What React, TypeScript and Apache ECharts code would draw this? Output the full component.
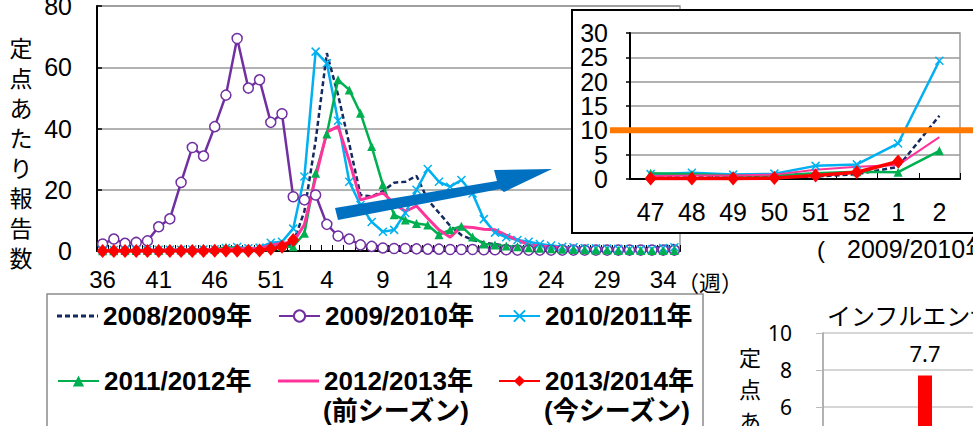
import React, { useEffect, useRef } from "react";
import * as echarts from "echarts";

const FONT = "'Liberation Sans', Arial, 'Noto Sans CJK JP', sans-serif";
const JP = "'Noto Sans CJK JP', 'Liberation Sans', sans-serif";
const NARROW = "'Liberation Sans Narrow', 'Liberation Sans', Arial, sans-serif";

const weeks = [
  "36", "37", "38", "39", "40", "41", "42", "43", "44", "45", "46", "47", "48", "49", "50", "51", "52",
  "1", "2", "3", "4", "5", "6", "7", "8", "9", "10", "11", "12", "13", "14", "15", "16", "17", "18",
  "19", "20", "21", "22", "23", "24", "25", "26", "27", "28", "29", "30", "31", "32", "33", "34", "35",
];

const seasonNames = ["2008/2009年", "2009/2010年", "2010/2011年", "2011/2012年", "2012/2013年", "2013/2014年"];

const s2008 = [
  0.1, 0.1, 0.1, 0.1, 0.2, 0.2, 0.2, 0.2, 0.2, 0.3, 0.3,
  0.3, 0.3, 0.3, 0.4, 0.5, 1.0,
  2.5, 13, 36, 64.6, 51, 35, 18.3, 17.8, 19.5, 22.3, 22.6, 24.5, 16.7, 12.5, 8.2, 5.2, 3.6, 2.8, 2.2,
  1.8, 1.4, 1.1, 0.9, 0.8, 0.7, 0.6, 0.6, 0.5, 0.5, 0.5, 0.6, 0.7, 0.9, 1.5, 2.0,
];
const s2009 = [
  2.3, 3.9, 2.5, 2.8, 3.3, 7.9, 10.5, 22.4, 33.8, 31, 40.6,
  50.9, 69.4, 53.2, 55.9, 42, 44.8,
  17.7, 16.7, 18.3, 8.7, 4.9, 3.9, 2.0, 1.5, 1.0, 0.8, 0.8, 0.7, 0.6, 0.6, 0.5, 0.5, 0.5, 0.4, 0.4,
  0.4, 0.3, 0.3, 0.3, 0.3, 0.3, 0.3, 0.3, 0.3, 0.3, 0.3, 0.3, 0.3, 0.3, 0.3, 0.3,
];
const s2010 = [
  0.3, 0.3, 0.3, 0.3, 0.3, 0.4, 0.4, 0.4, 0.5, 0.5, 0.6,
  1.0, 1.3, 0.9, 1.1, 2.7, 3.0,
  7.3, 24.3, 65.1, 61.3, 42.5, 22.6, 15, 9.5, 6.3, 6.9, 12.4, 20, 26.8, 22.6, 21, 23.2, 18.8, 10.4, 6.0,
  4.5, 3.6, 3.0, 2.3, 1.8, 1.4, 1.2, 1.0, 0.9, 0.8, 0.7, 0.6, 0.6, 0.6, 1.0, 1.2,
];
const s2011 = [
  0.1, 0.1, 0.2, 0.2, 0.2, 0.2, 0.3, 0.3, 0.3, 0.4, 0.5,
  1.2, 1.0, 0.7, 0.7, 1.2, 1.5,
  1.4, 5.8, 25.4, 38.2, 55.9, 52.6, 45, 34.1, 21.6, 11.8, 10.1, 9.0, 8.5, 5.3, 6.9, 8.1, 4.6, 2.3, 2.0,
  1.6, 1.4, 1.1, 0.9, 0.7, 0.6, 0.5, 0.4, 0.3, 0.3, 0.2, 0.2, 0.2, 0.2, 0.2, 0.2,
];
const s2012 = [
  0.2, 0.2, 0.2, 0.2, 0.2, 0.3, 0.3, 0.3, 0.3, 0.4, 0.5,
  0.6, 0.7, 0.7, 0.9, 1.9, 2.5,
  2.9, 8.6, 24, 38.8, 40.7, 29.5, 16.7, 17.7, 19, 15.6, 12.9, 14.7, 10.7, 6.9, 4.5, 7.9, 7.7, 7.1, 6.9,
  5.2, 3.6, 2.0, 1.6, 1.3, 1.0, 0.8, 0.6, 0.5, 0.5, 0.4, 0.4, 0.4, 0.4, 0.4, 0.4,
];
const s2013 = [
  0, 0, 0, 0, 0, 0, 0, 0, 0, 0, 0.1,
  0.1, 0.1, 0.1, 0.2, 0.7, 1.4,
  3.6, null, null, null, null, null, null, null, null, null, null, null, null, null, null, null, null, null, null,
  null, null, null, null, null, null, null, null, null, null, null, null, null, null, null, null,
];

// inset: weeks 47..2
const insetStart = 11;
const insetEnd = 19;
const insetThreshold = 10;
const insetTickLabels = ["0", "5", "10", "15", "20", "25", "30"];

// small chart at bottom right
const barCategories = ["定点"];
const barValues = [7.7];

const yMainTicks = { min: 0, max: 80, interval: 20 };
const yInsetTicks = { min: 0, max: 30, interval: 5 };
const yBarTicks = { min: 0, max: 10, interval: 2 };

const DASH_ICON = "path://M0,0h5v3h-5zM8,0h5v3h-5zM16,0h5v3h-5zM24,0h5v3h-5zM32,0h5v3h-5zM40,0h1v3h-1z";

const styles: any[] = [
  { color: "#14295F", lineStyle: { width: 2.5, type: [5, 3] }, symbol: "none" },
  {
    color: "#7030A0",
    lineStyle: { width: 2.5, color: "#7030A0" },
    symbol: "circle",
    symbolSize: 10,
    itemStyle: { color: "#ffffff", borderColor: "#7030A0", borderWidth: 1.5 },
  },
  {
    color: "#00B0F0",
    lineStyle: { width: 2.5 },
    symbol: "path://M0,0L10,10M10,0L0,10",
    symbolSize: 8,
    itemStyle: { color: "#00B0F0", borderColor: "#00B0F0", borderWidth: 1.5 },
  },
  { color: "#00B050", lineStyle: { width: 2.5 }, symbol: "triangle", symbolSize: 9 },
  { color: "#FF3399", lineStyle: { width: 3 }, symbol: "none" },
  { color: "#FF0000", lineStyle: { width: 3.5 }, symbol: "diamond", symbolSize: [12, 14] },
];

const seasonData = [s2008, s2009, s2010, s2011, s2012, s2013];

export default function App() {
  const ref = useRef<HTMLDivElement>(null);

  useEffect(() => {
    document.body.style.margin = "0";
    const chart = echarts.init(ref.current!, null, { renderer: "svg" });

    const mainSeries = seasonData.map((d, k) => ({
      type: "line",
      name: seasonNames[k],
      xAxisIndex: 0,
      yAxisIndex: 0,
      data: d,
      showAllSymbol: true,
      connectNulls: false,
      ...styles[k],
    }));

    const insetSeries = seasonData
      .map((d, k) => ({ d, k }))
      .filter(({ k }) => k !== 1)
      .map(({ d, k }) => ({
        type: "line",
        name: seasonNames[k],
        xAxisIndex: 1,
        yAxisIndex: 1,
        z: 13,
        data: d.slice(insetStart, insetEnd),
        showAllSymbol: true,
        ...styles[k],
        lineStyle: { ...styles[k].lineStyle, width: k === 4 ? 2 : styles[k].lineStyle.width },
      }));

    const legendBase = {
      selectedMode: false,
      itemWidth: 41,
      itemHeight: 14,
      padding: 0,
      symbolKeepAspect: false,
      textStyle: { fontSize: 26, fontWeight: "bold", color: "#000", fontFamily: FONT, lineHeight: 30 },
    };
    const legendPos = [
      [57, 301],
      [278, 301],
      [498, 301],
      [57, 366],
      [278, 366],
      [498, 366],
    ];
    const legendIcons: (string | null)[] = [DASH_ICON, null, null, null, "rect", null];

    const baseGraphics: any[] = [
      {
        id: "legendBox",
        type: "rect",
        z: 0,
        shape: { x: 47, y: 294, width: 656, height: 150 },
        style: { fill: "none", stroke: "#8c8c8c", lineWidth: 1.5 },
      },
      {
        id: "insetBox",
        type: "rect",
        z: 10,
        shape: { x: 572, y: 10, width: 420, height: 223 },
        style: { fill: "#ffffff", stroke: "#000000", lineWidth: 2 },
      },
      {
        id: "arrow",
        type: "polygon",
        z: 6,
        shape: {
          points: [
            [335, 208],
            [497, 181],
            [494, 170],
            [552, 169],
            [504, 192],
            [500, 189],
            [338, 220],
          ],
        },
        style: { fill: "#0070C0" },
      },
      {
        id: "yName",
        type: "text",
        z: 5,
        x: 21,
        y: 32,
        style: {
          text: "定\n点\nあ\nた\nり\n報\n告\n数",
          fontSize: 23,
          fontFamily: JP,
          lineHeight: 30,
          align: "center",
          verticalAlign: "top",
          fill: "#000",
        },
      },
      {
        id: "weekUnit",
        type: "text",
        z: 5,
        x: 677,
        y: 281,
        style: { text: "（週）", fontSize: 22, fontFamily: JP, fill: "#000", verticalAlign: "middle" },
      },
      {
        id: "prevSeason",
        type: "text",
        z: 5,
        x: 323,
        y: 411,
        style: { text: "(前シーズン)", fontSize: 26, fontWeight: "bold", fontFamily: FONT, fill: "#000", verticalAlign: "middle" },
      },
      {
        id: "curSeason",
        type: "text",
        z: 5,
        x: 544,
        y: 411,
        style: { text: "(今シーズン)", fontSize: 26, fontWeight: "bold", fontFamily: FONT, fill: "#000", verticalAlign: "middle" },
      },
      {
        id: "paren",
        type: "text",
        z: 5,
        x: 817,
        y: 249,
        style: { text: "(", fontSize: 24, fontFamily: FONT, fill: "#000", verticalAlign: "middle" },
      },
      {
        id: "seasonLabel",
        type: "text",
        z: 5,
        x: 847,
        y: 249,
        style: { text: "2009/2010年", fontSize: 25, fontFamily: FONT, fill: "#000", verticalAlign: "middle" },
      },
      {
        id: "barTitle",
        type: "text",
        z: 5,
        x: 827,
        y: 314,
        style: { text: "インフルエンザ", fontSize: 24, fontFamily: JP, fill: "#000", verticalAlign: "middle" },
      },
      {
        id: "barYName",
        type: "text",
        z: 5,
        x: 750,
        y: 340,
        style: {
          text: "定\n点\nあ\nた\nり",
          fontSize: 22,
          fontFamily: JP,
          lineHeight: 32,
          align: "center",
          verticalAlign: "top",
          fill: "#000",
        },
      },
    ];

    const option: any = {
      animation: false,
      backgroundColor: "#ffffff",
      textStyle: { fontFamily: FONT },
      legend: seasonNames.map((n, k) => ({
        ...legendBase,
        itemHeight: legendIcons[k] ? 3 : 14,
        data: [legendIcons[k] ? { name: n, icon: legendIcons[k] } : n],
        left: legendPos[k][0],
        top: legendPos[k][1],
      })),
      grid: [
        {
          left: 97,
          top: 6,
          width: 583,
          height: 245,
          show: true,
          outerBoundsMode: "none",
          borderColor: "#999999",
          borderWidth: 1.5,
          backgroundColor: "transparent",
        },
        {
          left: 630,
          top: 33,
          width: 330,
          height: 146,
          show: true,
          outerBoundsMode: "none",
          z: 11,
          borderColor: "#999999",
          borderWidth: 1.5,
          backgroundColor: "transparent",
        },
        {
          left: 823,
          top: 333,
          width: 204,
          height: 185,
          outerBoundsMode: "none",
          show: false,
        },
      ],
      xAxis: [
        {
          type: "category",
          gridIndex: 0,
          data: weeks,
          boundaryGap: true,
          axisLine: { lineStyle: { color: "#000", width: 2 } },
          axisTick: { show: true, inside: true, length: 6, interval: 0, lineStyle: { color: "#000", width: 1 } },
          axisLabel: { interval: 4, fontSize: 24, color: "#000", margin: 16, fontFamily: FONT },
          splitLine: { show: false },
        },
        {
          type: "category",
          gridIndex: 1,
          z: 12,
          data: weeks.slice(insetStart, insetEnd),
          boundaryGap: true,
          axisLine: { lineStyle: { color: "#000", width: 2 } },
          axisTick: { show: true, inside: true, length: 6, interval: 0, lineStyle: { color: "#000", width: 1 } },
          axisLabel: { interval: 0, fontSize: 25, color: "#000", margin: 20, fontFamily: NARROW },
          splitLine: { show: false },
        },
        {
          type: "category",
          gridIndex: 2,
          data: barCategories,
          axisLine: { lineStyle: { color: "#999", width: 1.5 } },
          axisTick: { show: false },
          axisLabel: { show: false },
        },
      ],
      yAxis: [
        {
          type: "value",
          gridIndex: 0,
          ...yMainTicks,
          axisLine: { show: true, lineStyle: { color: "#000", width: 2 } },
          axisTick: { show: true, inside: true, length: 5, lineStyle: { color: "#000", width: 1.5 } },
          axisLabel: { fontSize: 25, color: "#000", margin: 25, fontFamily: FONT, showMinLabel: true, showMaxLabel: true },
          splitLine: { show: true, lineStyle: { color: "#999999", width: 1.5 } },
        },
        {
          type: "value",
          gridIndex: 1,
          z: 12,
          ...yInsetTicks,
          axisLine: { show: true, lineStyle: { color: "#000", width: 2 } },
          axisTick: { show: true, inside: false, length: 4, lineStyle: { color: "#000", width: 1.5 } },
          axisLabel: { show: false },
          splitLine: { show: true, lineStyle: { color: "#999999", width: 1.5 } },
        },
        {
          type: "value",
          gridIndex: 2,
          ...yBarTicks,
          axisLine: { show: true, lineStyle: { color: "#999", width: 1.5 } },
          axisTick: { show: true, inside: false, length: 7, lineStyle: { color: "#bbb", width: 1 } },
          axisLabel: {
            fontSize: 21,
            color: "#000",
            margin: 31,
            fontFamily: "'Noto Sans', 'Liberation Sans', sans-serif",
            showMinLabel: true,
            showMaxLabel: true,
          },
          splitLine: { show: true, lineStyle: { color: "#c8c8c8", width: 1.5 } },
        },
      ],
      series: [
        ...mainSeries,
        ...insetSeries,
        {
          type: "bar",
          name: "bar",
          xAxisIndex: 2,
          yAxisIndex: 2,
          data: barValues,
          barWidth: 14,
          itemStyle: { color: "#FF0000" },
          label: {
            show: true,
            position: "top",
            distance: 12,
            fontSize: 22,
            color: "#000",
            fontFamily: "'Noto Sans', 'Liberation Sans', sans-serif",
          },
        },
      ],
      graphic: { elements: baseGraphics },
    };

    chart.setOption(option);

    const yPix = chart.convertToPixel({ yAxisIndex: 1 }, insetThreshold) as number;
    const insetLabelEls = insetTickLabels.map((t) => ({
      id: "insetY" + t,
      type: "text",
      z: 13,
      x: 608,
      y: chart.convertToPixel({ yAxisIndex: 1 }, Number(t)) as number,
      style: {
        text: t,
        fontSize: 25,
        fontFamily: NARROW,
        fill: "#000",
        align: "right",
        verticalAlign: "middle",
      },
    }));

    chart.setOption({
      graphic: {
        elements: [
          ...baseGraphics,
          ...insetLabelEls,
          {
            id: "threshold",
            type: "line",
            z: 14,
            shape: { x1: 610, y1: yPix, x2: 990, y2: yPix },
            style: { stroke: "#FF7800", lineWidth: 6 },
          },
        ],
      },
    });

    return () => chart.dispose();
  }, []);

  return <div ref={ref} style={{ width: 973, height: 426 }} />;
}
